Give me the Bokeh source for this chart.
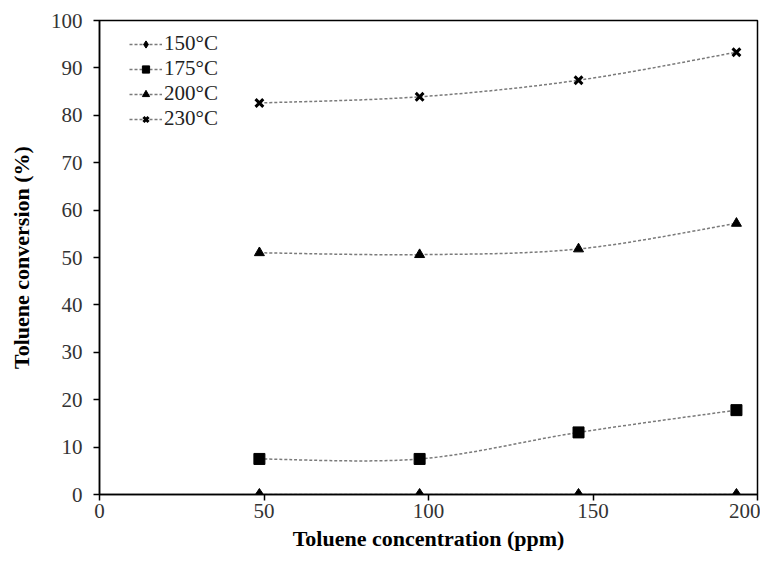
from bokeh.plotting import figure
from bokeh.models import Legend, LegendItem, Range1d, SingleIntervalTicker
from bokeh.embed import file_html
from bokeh.resources import INLINE
import numpy as np

conc = [48.6, 97.3, 145.6, 193.6]
t150 = [0.0, 0.0, 0.0, 0.0]
t175 = [7.5, 7.5, 13.1, 17.8]
t200 = [51.0, 50.6, 51.8, 57.2]
t230 = [82.6, 83.9, 87.4, 93.3]
labels = ["150°C", "175°C", "200°C", "230°C"]
markers = ["diamond", "square", "triangle", "x"]

FONT = "Liberation Serif"

p = figure(width=760, height=558, output_backend="svg", toolbar_location=None,
           x_range=Range1d(0, 200), y_range=Range1d(0, 100),
           min_border_left=99, min_border_right=3, min_border_top=20, min_border_bottom=64)
p.xgrid.visible = False
p.ygrid.visible = False
p.outline_line_color = "black"
p.outline_line_width = 1.5
p.background_fill_color = "white"

def smooth_bezier(xs, ys):
    x = np.array(xs, float); y = np.array(ys, float)
    n = len(x)
    x0, y0, x1, y1, cx0, cy0, cx1, cy1 = [], [], [], [], [], [], [], []
    for i in range(n - 1):
        pm = max(i - 1, 0); pp = min(i + 2, n - 1)
        x0.append(x[i]); y0.append(y[i]); x1.append(x[i + 1]); y1.append(y[i + 1])
        cx0.append(x[i] + (x[i + 1] - x[pm]) / 6); cy0.append(y[i] + (y[i + 1] - y[pm]) / 6)
        cx1.append(x[i + 1] - (x[pp] - x[i]) / 6); cy1.append(y[i + 1] - (y[pp] - y[i]) / 6)
    return dict(x0=x0, y0=y0, x1=x1, y1=y1, cx0=cx0, cy0=cy0, cx1=cx1, cy1=cy1)

items = []
for ys, lab, mk in zip([t150, t175, t200, t230], labels, markers):
    b = smooth_bezier(conc, ys)
    p.bezier(line_color="#7a7a7a", line_width=1.5, line_dash="3 2", **b)
    if mk == "x":
        sr = p.scatter(conc, ys, marker=mk, size=11, line_color="black", line_width=3)
    elif mk == "diamond":
        sr = p.scatter(conc, ys, marker=mk, size=12, fill_color="black", line_color="black")
    elif mk == "square":
        sr = p.scatter(conc, ys, marker=mk, size=11, fill_color="black", line_color="black")
    else:
        sr = p.scatter(conc, ys, marker=mk, size=10, fill_color="black", line_color="black")
    lp = p.line([np.nan], [np.nan], line_color="#7a7a7a", line_width=1.5, line_dash="3 2")
    items.append(LegendItem(label=lab, renderers=[lp, sr]))

legend = Legend(items=items, location=(30, 363), border_line_color=None,
                background_fill_alpha=0, label_text_font=FONT, label_text_font_size="21px",
                label_text_color="#222222", glyph_width=33, glyph_height=18,
                label_height=18, spacing=-4, padding=0, margin=0, label_standoff=2)
p.add_layout(legend)

for ax in (p.xaxis[0], p.yaxis[0]):
    ax.axis_line_color = "black"
    ax.axis_line_width = 1.5
    ax.major_tick_line_color = "black"
    ax.major_tick_line_width = 1.5
    ax.major_tick_in = 0
    ax.major_tick_out = 6
    ax.minor_tick_line_color = None
    ax.major_label_text_font = FONT
    ax.major_label_text_font_size = "21px"
    ax.major_label_text_color = "#333333"
    ax.axis_label_text_font = FONT
    ax.axis_label_text_font_style = "bold"
    ax.axis_label_text_font_size = "22px"
    ax.axis_label_text_color = "black"

p.xaxis.ticker = SingleIntervalTicker(interval=50)
p.yaxis.ticker = SingleIntervalTicker(interval=10)
p.xaxis.axis_label = "Toluene concentration (ppm)"
p.yaxis.axis_label = "Toluene conversion (%)"
p.xaxis.major_label_standoff = 3
p.yaxis.major_label_standoff = 11
p.xaxis.axis_label_standoff = 5
p.yaxis.axis_label_standoff = 14

open("out.html", "w").write(file_html(p, INLINE))
